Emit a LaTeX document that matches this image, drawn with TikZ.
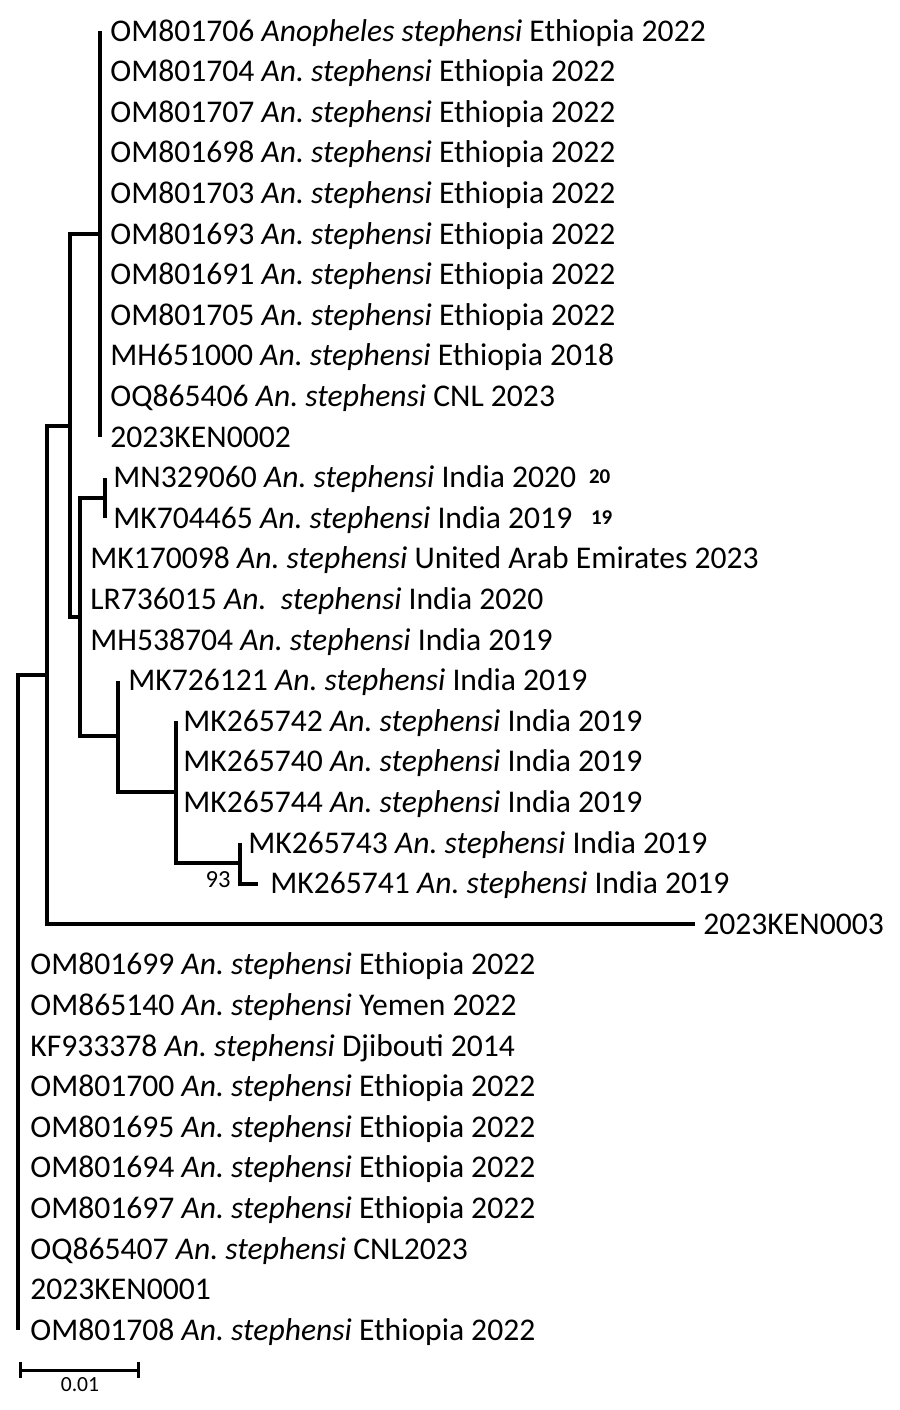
\documentclass[tikz,border=0pt]{standalone}
\usepackage{fontspec}
\setmainfont{Carlito}
\frenchspacing
\tikzstyle{tip} = [anchor=west, inner sep=0pt, inner xsep=5pt, text height=10pt, text depth=0pt, font=\fontsize{15.8}{18}\selectfont]
\tikzstyle{branch} = [line width=2pt, line join=miter]
\tikzstyle{bar} = [line width=1.5pt]
\tikzstyle{support} = [anchor=east, inner sep=0pt, font=\fontsize{12.3}{14}\selectfont]
\tikzstyle{scalelabel} = [anchor=center, inner sep=0pt, font=\fontsize{10.8}{12}\selectfont]
\tikzstyle{artifact} = [anchor=west, inner sep=0pt, font=\fontsize{10.5}{12}\selectfont\bfseries]
\newcommand{\ansteph}{\textit{An. stephensi}}

\begin{document}
\begin{tikzpicture}[x=0.5pt, y=-0.5pt]
 \useasboundingbox (0,0) rectangle (900,1410);

 % internal nodes
 \coordinate (root) at (18,1002.55);
 \coordinate (n1) at (47,674.9);
 \coordinate (n2) at (70,425.6);
 \coordinate (n3) at (100,234);
 \coordinate (n4) at (80,617.2);
 \coordinate (n5) at (105,497.9);
 \coordinate (n6) at (118,736.4);
 \coordinate (n7) at (176,792.3);
 \coordinate (n8) at (240,863.3);

 % tips
 \node (t0) [tip] at (100,31) {OM801706 \textit{Anopheles stephensi} Ethiopia 2022};
 \node (t1) [tip] at (100,71.6) {OM801704 \ansteph{} Ethiopia 2022};
 \node (t2) [tip] at (100,112.2) {OM801707 \ansteph{} Ethiopia 2022};
 \node (t3) [tip] at (100,152.8) {OM801698 \ansteph{} Ethiopia 2022};
 \node (t4) [tip] at (100,193.4) {OM801703 \ansteph{} Ethiopia 2022};
 \node (t5) [tip] at (100,234) {OM801693 \ansteph{} Ethiopia 2022};
 \node (t6) [tip] at (100,274.6) {OM801691 \ansteph{} Ethiopia 2022};
 \node (t7) [tip] at (100,315.2) {OM801705 \ansteph{} Ethiopia 2022};
 \node (t8) [tip] at (100,355.8) {MH651000 \ansteph{} Ethiopia 2018};
 \node (t9) [tip] at (100,396.4) {OQ865406 \ansteph{} CNL 2023};
 \node (t10) [tip] at (100,437) {2023KEN0002};
 \node (t11) [tip, inner xsep=4pt] at (105,477.6) {MN329060 \ansteph{} India 2020};
 \node (t12) [tip, inner xsep=4pt] at (105,518.2) {MK704465 \ansteph{} India 2019};
 \node (t13) [tip] at (80,558.8) {MK170098 \ansteph{} United Arab Emirates 2023};
 \node (t14) [tip] at (80,599.4) {LR736015 \textit{An.}\ \ \textit{stephensi} India 2020};
 \node (t15) [tip] at (80,640) {MH538704 \ansteph{} India 2019};
 \node (t16) [tip] at (118,680.6) {MK726121 \ansteph{} India 2019};
 \node (t17) [tip, inner xsep=3.5pt] at (176,721.2) {MK265742 \ansteph{} India 2019};
 \node (t18) [tip, inner xsep=3.5pt] at (176,761.8) {MK265740 \ansteph{} India 2019};
 \node (t19) [tip, inner xsep=3.5pt] at (176,802.4) {MK265744 \ansteph{} India 2019};
 \node (t20) [tip, inner xsep=4pt] at (240,843) {MK265743 \ansteph{} India 2019};
 \node (t21) [tip, inner xsep=6pt] at (258,883.6) {MK265741 \ansteph{} India 2019};
 \node (t22) [tip, inner xsep=4pt] at (695,924.2) {2023KEN0003};
 \node (t23) [tip, inner xsep=6pt] at (18,964.8) {OM801699 \ansteph{} Ethiopia 2022};
 \node (t24) [tip, inner xsep=6pt] at (18,1005.4) {OM865140 \ansteph{} Yemen 2022};
 \node (t25) [tip, inner xsep=6pt] at (18,1046) {KF933378 \ansteph{} Djibouti 2014};
 \node (t26) [tip, inner xsep=6pt] at (18,1086.6) {OM801700 \ansteph{} Ethiopia 2022};
 \node (t27) [tip, inner xsep=6pt] at (18,1127.2) {OM801695 \ansteph{} Ethiopia 2022};
 \node (t28) [tip, inner xsep=6pt] at (18,1167.8) {OM801694 \ansteph{} Ethiopia 2022};
 \node (t29) [tip, inner xsep=6pt] at (18,1208.4) {OM801697 \ansteph{} Ethiopia 2022};
 \node (t30) [tip, inner xsep=6pt] at (18,1249) {OQ865407 \ansteph{} CNL2023};
 \node (t31) [tip, inner xsep=6pt] at (18,1289.6) {2023KEN0001};
 \node (t32) [tip, inner xsep=6pt] at (18,1330.2) {OM801708 \ansteph{} Ethiopia 2022};

 \node (a20) [artifact] at ([xshift=2pt, yshift=0.5pt]t11.east) {20};
 \node (a19) [artifact] at ([xshift=5pt, yshift=0.5pt]t12.east) {19};

 % branches
 \draw[branch] (root) |- (n1);
 \foreach \t in {t23,t24,t25,t26,t27,t28,t29,t30,t31,t32}
  \draw[branch] (root) |- (\t.west);
 \draw[branch] (n1) |- (n2);
 \draw[branch] (n1) |- (t22.west);
 \draw[branch] (n2) |- (n3);
 \draw[branch] (n2) |- (n4);
 \foreach \t in {t0,t1,t2,t3,t4,t5,t6,t7,t8,t9,t10}
  \draw[branch] (n3) |- (\t.west);
 \draw[branch] (n4) |- (n5);
 \foreach \t in {t13,t14,t15}
  \draw[branch] (n4) |- (\t.west);
 \draw[branch] (n4) |- (n6);
 \draw[branch] (n5) |- (t11.west);
 \draw[branch] (n5) |- (t12.west);
 \draw[branch] (n6) |- (t16.west);
 \draw[branch] (n6) |- (n7);
 \foreach \t in {t17,t18,t19}
  \draw[branch] (n7) |- (\t.west);
 \draw[branch] (n7) |- (n8);
 \draw[branch] (n8) |- (t20.west);
 \draw[branch] (n8) |- (t21.west);

 \node (b93) [support] at (231,880) {93};

 % scale bar
 \coordinate (sb0) at (20,1370);
 \coordinate (sb1) at (138,1370);
 \draw[bar] (sb0) -- (sb1);
 \draw[bar] ([yshift=4pt]sb0) -- ([yshift=-4pt]sb0);
 \draw[bar] ([yshift=4pt]sb1) -- ([yshift=-4pt]sb1);
 \node (sbl) [scalelabel] at (80,1385) {0.01};
\end{tikzpicture}
\end{document}
